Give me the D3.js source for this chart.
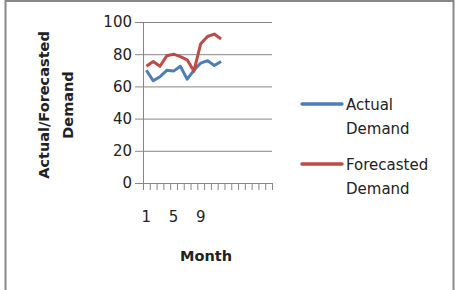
<!DOCTYPE html>
<html>
<head>
<meta charset="utf-8">
<script src="https://cdn.jsdelivr.net/npm/d3@7"></script>
<style>
  body { margin: 0; background: #fff; }
  text { font-family: "DejaVu Sans", sans-serif; fill: #222; }
</style>
</head>
<body>
<svg id="chart"></svg>
<script>
const width = 471;
const height = 290;
const margin = { top: 22, right: 199, bottom: 107, left: 143 };

// data
const months = d3.range(1, 20);
const actual = [70, 63.5, 66, 70, 69.5, 72.5, 64.5, 70, 74.5, 76, 73, 75.5];
const forecast = [72.5, 75.5, 72.5, 79, 80, 78.5, 76.5, 69.5, 86.5, 91, 92.5, 89.5];
const monthLabels = [1, 5, 9];
const yTicks = [0, 20, 40, 60, 80, 100];
const seriesNames = [['Actual', 'Demand'], ['Forecasted', 'Demand']];
const colors = ['#4a7ebb', '#be4b48'];

const svg = d3.select('#chart')
    .attr('width', width)
    .attr('height', height);

// outer frame
svg.append('rect')
    .attr('x', 5.5)
    .attr('y', 1)
    .attr('width', 448)
    .attr('height', 300)
    .attr('fill', 'none')
    .attr('stroke', '#888')
    .attr('stroke-width', 2);

const xScale = d3.scaleBand()
    .domain(months)
    .range([margin.left, width - margin.right]);

const xEdge = d3.scaleLinear()
    .domain([0, months.length])
    .range([margin.left, width - margin.right]);

const yScale = d3.scaleLinear()
    .domain([0, 100])
    .range([height - margin.bottom, margin.top]);

// gridlines + y axis
const yAxis = d3.axisLeft(yScale)
    .tickValues(yTicks)
    .tickSize(-(width - margin.right - margin.left))
    .tickPadding(11);

const yG = svg.append('g')
    .attr('transform', `translate(${margin.left},0)`)
    .call(yAxis);
yG.select('.domain').remove();
yG.selectAll('line')
    .attr('x1', -8)
    .attr('stroke', '#868686');
yG.selectAll('text')
    .style('font-size', '15px')
    .attr('fill', '#222');

svg.append('line')
    .attr('x1', margin.left + 0.5)
    .attr('x2', margin.left + 0.5)
    .attr('y1', yScale(100))
    .attr('y2', yScale(0))
    .attr('stroke', '#868686');

// x axis ticks
const xAxis = d3.axisBottom(xEdge)
    .tickValues(d3.range(0, months.length + 1))
    .tickSize(7)
    .tickFormat('');

const xG = svg.append('g')
    .attr('transform', `translate(0,${yScale(0)})`)
    .call(xAxis);
xG.select('.domain').remove();
xG.selectAll('line').attr('stroke', '#868686');

svg.append('g')
    .selectAll('text')
    .data(monthLabels)
    .enter()
    .append('text')
    .attr('x', d => xScale(d) + xScale.bandwidth() / 2)
    .attr('y', yScale(0) + 39)
    .attr('text-anchor', 'middle')
    .style('font-size', '15px')
    .text(d => d);

// lines
const line = d3.line()
    .x((d, i) => xScale(months[i]) + xScale.bandwidth() / 2)
    .y(d => yScale(d));

[actual, forecast].forEach((s, i) => {
    svg.append('path')
        .datum(s)
        .attr('d', line)
        .attr('fill', 'none')
        .attr('stroke', colors[i])
        .attr('stroke-width', 3)
        .attr('stroke-linejoin', 'round');
});

// axis titles
svg.append('text')
    .attr('x', 206)
    .attr('y', 261)
    .attr('text-anchor', 'middle')
    .style('font-size', '14.5px')
    .style('font-weight', 'bold')
    .text('Month');

const yTitle = svg.append('text')
    .attr('transform', 'translate(49,105) rotate(-90)')
    .attr('text-anchor', 'middle')
    .style('font-size', '14.5px')
    .style('font-weight', 'bold');
yTitle.append('tspan').attr('x', 0).attr('dy', 0).text('Actual/Forecasted');
yTitle.append('tspan').attr('x', 0).attr('dy', 24).text('Demand');

// legend
const legend = svg.append('g');
seriesNames.forEach((names, i) => {
    const y0 = 104 + i * 60;
    legend.append('line')
        .attr('x1', 302)
        .attr('x2', 342)
        .attr('y1', y0)
        .attr('y2', y0)
        .attr('stroke', colors[i])
        .attr('stroke-width', 3.5)
        .attr('stroke-linecap', 'round');
    const t = legend.append('text')
        .attr('x', 346)
        .attr('y', y0 + 6)
        .style('font-size', '15px')
        .attr('fill', '#333');
    names.forEach((n, j) => {
        t.append('tspan').attr('x', 346).attr('dy', j ? 24 : 0).text(n);
    });
});
</script>
</body>
</html>
